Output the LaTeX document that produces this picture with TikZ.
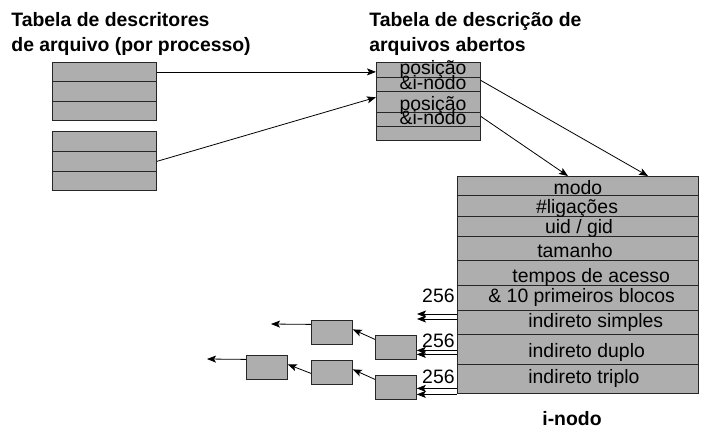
\documentclass[tikz,border=0pt]{standalone}
\usepackage{fontspec}
\setmainfont{Liberation Sans}
\usetikzlibrary{calc,arrows.meta}
\definecolor{cellgray}{RGB}{174,174,174}
\begin{document}
\begin{tikzpicture}[x=1pt, y=-1pt, line width=0.8pt, >={Stealth[length=9pt,width=7pt,inset=2pt]},
  cell/.style={draw=black!85, fill=cellgray, inner sep=0pt, anchor=north west},
  lbl/.style={font=\fontsize{19.4}{22}\selectfont, inner sep=0pt},
  ttl/.style={font=\bfseries\fontsize{19.4}{22}\selectfont, inner sep=0pt, anchor=base west}]
\useasboundingbox (0,0) rectangle (710,434);

% titulos
\node[ttl] (t1a) at (11,26) {Tabela de descritores};
\node[ttl] (t1b) at (11,51) {de arquivo (por processo)};
\node[ttl] (t2a) at (369,26) {Tabela de descrição de};
\node[ttl] (t2b) at (369,51) {arquivos abertos};

% tabelas de descritores (por processo)
\foreach \n/\y/\h in {fa/62/19, fb/81/20, fc/101/19, fd/131/20, fe/151/20, ff/171/19}
{
    \node[cell, minimum width=104, minimum height=\h] (\n) at (52,\y) {};
}

% arquivos abertos
\foreach \n/\y/\h in {pa/62/15, ia/77/14, pb/91/21, ib/112/14, va/126/14}
{
    \node[cell, minimum width=104, minimum height=\h] (\n) at (376,\y) {};
}
\node[lbl, anchor=base] (lpa) at (433,74) {posição};
\node[lbl, anchor=base] (lia) at (433,89) {\&i-nodo};
\node[lbl, anchor=base] (lpb) at (433,110) {posição};
\node[lbl, anchor=base] (lib) at (433,124) {\&i-nodo};

% i-nodo
\foreach \n/\y/\h in {modo/176/19, lig/195/21, uid/216/20, tam/236/24, tmp/260/25, blc/285/25, sim/310/24, dup/334/30, tri/364/29}
{
    \node[cell, minimum width=241, minimum height=\h] (\n) at (457,\y) {};
}
\node[lbl, anchor=base] (tmodo) at (578,194) {modo};
\node[lbl, anchor=base] (tlig) at (577,213) {\#ligações};
\node[lbl, anchor=base] (tuid) at (579,233) {uid / gid};
\node[lbl, anchor=base] (ttam) at (575,257) {tamanho};
\node[lbl, anchor=base west] (ttmp) at (512,282) {tempos de acesso};
\node[lbl, anchor=base west] (tblc) at (488,302) {\& 10 primeiros blocos};
\node[lbl, anchor=base west] (tsim) at (528,327) {indireto simples};
\node[lbl, anchor=base west] (tdup) at (528,357) {indireto duplo};
\node[lbl, anchor=base west] (ttri) at (528,383) {indireto triplo};
\node[ttl, anchor=base] (tino) at (572,425) {i-nodo};

\node[lbl, anchor=base east] (n1) at (455,302) {256};
\node[lbl, anchor=base east] (n2) at (455,347) {256};
\node[lbl, anchor=base east] (n3) at (455,383) {256};

% blocos indiretos
\foreach \n/\x/\y in {ba/311/320, bb/375/335, bc/311/360, bd/246/355, be/375/375}
{
    \node[cell, minimum width=41, minimum height=24] (\n) at (\x,\y) {};
}

% setas
\draw[->] (fa.east) -- (fa.east -| pa.west);
\draw[->] (fe.east) -- (pb.175);
\draw[->] ($(ia.east)+(0,-4)$) -- ($(modo.north west)+(191,0)$);
\draw[->] ($(ib.east)+(0,-3)$) -- ($(modo.north west)+(111,0)$);

\coordinate (sa) at (417,314);
\coordinate (sb) at (417,319);
\draw[->] (sim.west |- sa) -- (sa);
\draw[->] (sim.west |- sb) -- (sb);
\draw[->] ($(bb.east -| dup.west)+(0,3)$) -- ($(bb.east)+(0,3)$);
\draw[->] ($(bb.east -| dup.west)+(0,7)$) -- ($(bb.east)+(0,7)$);
\draw[->] ($(be.east -| tri.west)+(0,1)$) -- ($(be.east)+(0,1)$);
\draw[->] ($(be.east -| tri.west)+(0,7)$) -- ($(be.east)+(0,7)$);

\coordinate (fim1) at (271,324);
\coordinate (fim2) at (207,359);
\draw[->] ($(bb.west)+(0,-8)$) -- ($(ba.east)+(0,-3)$);
\draw[->] ($(ba.west)+(0,-8)$) -- (fim1);
\draw[->] ($(be.west)+(0,-8)$) -- ($(bc.east)+(0,-3)$);
\draw[->] ($(bc.west)+(0,1)$) -- ($(bd.east)+(0,-3)$);
\draw[->] ($(bd.west)+(0,-8)$) -- (fim2);

\end{tikzpicture}
\end{document}
